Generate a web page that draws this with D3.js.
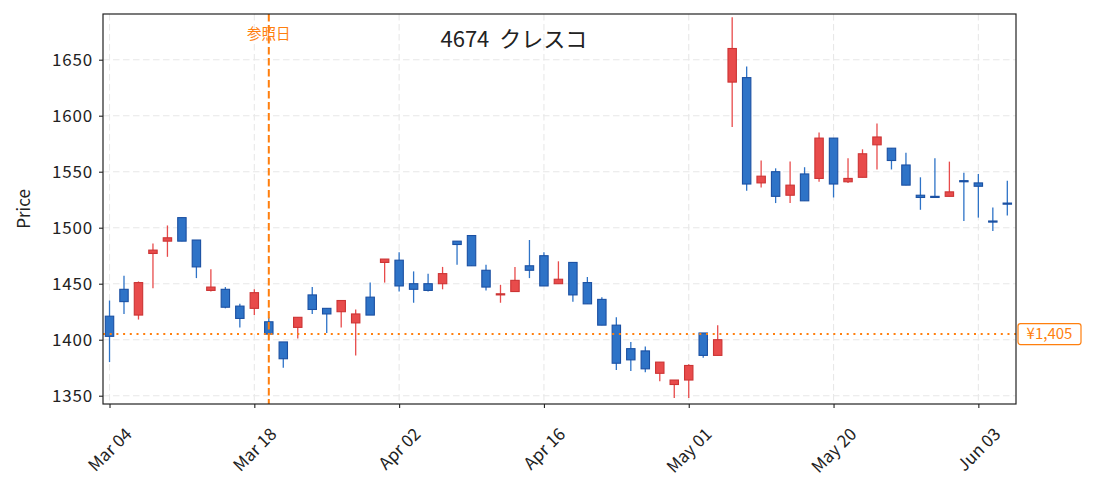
<!DOCTYPE html>
<html>
<head>
<meta charset="utf-8">
<script src="https://cdn.jsdelivr.net/npm/d3@7"></script>
<style>
  body { margin: 0; background: #fff; }
  svg { display: block; font-family: "Noto Sans CJK JP", "Noto Sans", sans-serif; }
</style>
</head>
<body>
<div id="chart"></div>
<script>
// trading days shown on the chart
const dates = [
  "2024-03-04","2024-03-05","2024-03-06","2024-03-07","2024-03-08","2024-03-11","2024-03-12","2024-03-13","2024-03-14","2024-03-15",
  "2024-03-18","2024-03-19","2024-03-21","2024-03-22","2024-03-25","2024-03-26","2024-03-27","2024-03-28","2024-03-29","2024-04-01",
  "2024-04-02","2024-04-03","2024-04-04","2024-04-05","2024-04-08","2024-04-09","2024-04-10","2024-04-11","2024-04-12","2024-04-15",
  "2024-04-16","2024-04-17","2024-04-18","2024-04-19","2024-04-22","2024-04-23","2024-04-24","2024-04-25","2024-04-26","2024-04-30",
  "2024-05-01","2024-05-02","2024-05-07","2024-05-08","2024-05-09","2024-05-10","2024-05-13","2024-05-14","2024-05-15","2024-05-16",
  "2024-05-20","2024-05-21","2024-05-22","2024-05-23","2024-05-24","2024-05-27","2024-05-28","2024-05-29","2024-05-30","2024-05-31",
  "2024-06-03","2024-06-04","2024-06-05"
];
const opens  = [1421,1445,1422,1477,1488,1509,1489,1444,1445,1430,1428,1416,1398,1411,1440,1428,1425,1415,1438,1469,
                1471,1450,1450,1450,1488,1493,1462,1440,1443,1466,1475,1450,1469,1451,1436,1413,1392,1390,1370,1360,
                1364,1406,1386,1630,1634,1540,1550,1529,1548,1544,1580,1541,1545,1574,1571,1556,1529,1528,1528,1542,
                1540,1506,1522];
const highs  = [1435,1457,1452,1486,1502,1509,1489,1463,1447,1432,1445,1420,1398,1420,1447,1428,1435,1427,1451,1472,
                1478,1461,1459,1465,1488,1493,1467,1449,1465,1489,1478,1470,1469,1456,1438,1420,1398,1394,1380,1364,
                1378,1406,1413,1688,1644,1560,1553,1559,1554,1585,1580,1562,1570,1593,1571,1567,1545,1562,1559,1549,
                1548,1518,1542];
const lows   = [1380,1423,1418,1446,1474,1488,1455,1443,1428,1411,1422,1405,1375,1401,1423,1406,1411,1386,1422,1451,
                1443,1433,1443,1445,1467,1466,1444,1433,1443,1455,1448,1450,1434,1432,1413,1373,1372,1371,1363,1348,
                1348,1384,1386,1590,1533,1536,1522,1522,1524,1541,1527,1540,1545,1552,1552,1538,1516,1527,1528,1506,
                1509,1497,1511];
const closes = [1403,1434,1451,1480,1491,1488,1465,1447,1429,1419,1442,1405,1383,1420,1427,1423,1435,1423,1422,1472,
                1448,1445,1444,1459,1485,1466,1447,1441,1453,1462,1448,1454,1440,1432,1413,1379,1382,1374,1380,1364,
                1377,1386,1400,1660,1539,1546,1528,1538,1524,1580,1539,1544,1566,1581,1560,1538,1527,1527,1532,1541,
                1537,1505,1521];

const yTicks = [1350, 1400, 1450, 1500, 1550, 1600, 1650];
const xTicks = [0, 10, 20, 30, 40, 50, 60];
const refIndex = 11;      // 参照日
const refPrice = 1405;
const titleText = "4674  クレスコ";

const W = 1093, H = 491;
const plot = { left: 103, right: 1016, top: 14, bottom: 404 };

const svg = d3.select("#chart").append("svg")
  .attr("width", W).attr("height", H);

const x = d3.scaleLinear().domain([-0.45, 62.6]).range([plot.left, plot.right]);
const y = d3.scaleLinear().domain([1342.6, 1690.8]).range([plot.bottom, plot.top]);

const fmtDate = d3.timeFormat("%b %d");
const parse = d3.timeParse("%Y-%m-%d");

// grid
const grid = svg.append("g");
grid.selectAll("line.gy").data(yTicks).enter().append("line")
  .attr("x1", plot.left).attr("x2", plot.right)
  .attr("y1", d => y(d)).attr("y2", d => y(d))
  .attr("stroke", "#e8e8e8").attr("stroke-width", 1.1).attr("stroke-dasharray", "6.5,3.5");
grid.selectAll("line.gx").data(xTicks).enter().append("line")
  .attr("y1", plot.top).attr("y2", plot.bottom)
  .attr("x1", d => x(d)).attr("x2", d => x(d))
  .attr("stroke", "#e8e8e8").attr("stroke-width", 1.1).attr("stroke-dasharray", "6.5,3.5");

// candles
const upFill = "#e84b4b", upEdge = "#cc3434";
const dnFill = "#2e73c7", dnEdge = "#1b50a2";
const idx = d3.range(dates.length);
const bodyW = 0.58 * (x(1) - x(0));

svg.append("g").selectAll("line").data(idx).enter().append("line")
  .attr("x1", i => x(i)).attr("x2", i => x(i))
  .attr("y1", i => y(highs[i])).attr("y2", i => y(lows[i]))
  .attr("stroke", i => closes[i] >= opens[i] ? upFill : dnFill)
  .attr("stroke-width", 1.3);

svg.append("g").selectAll("rect").data(idx).enter().append("rect")
  .attr("x", i => x(i) - bodyW / 2)
  .attr("width", bodyW)
  .attr("y", i => y(Math.max(opens[i], closes[i])))
  .attr("height", i => Math.max(1, Math.abs(y(opens[i]) - y(closes[i]))))
  .attr("fill", i => closes[i] >= opens[i] ? upFill : dnFill)
  .attr("stroke", i => closes[i] >= opens[i] ? upEdge : dnEdge)
  .attr("stroke-width", 1.1);

// reference lines
const orange = "#ff7f0e";
svg.append("line")
  .attr("x1", plot.left).attr("x2", plot.right)
  .attr("y1", y(refPrice)).attr("y2", y(refPrice))
  .attr("stroke", orange).attr("stroke-width", 2).attr("stroke-dasharray", "2,4.7");
svg.append("line")
  .attr("x1", x(refIndex)).attr("x2", x(refIndex))
  .attr("y1", plot.top).attr("y2", plot.bottom)
  .attr("stroke", orange).attr("stroke-width", 2).attr("stroke-dasharray", "7.5,3.5");

svg.append("text")
  .attr("x", x(refIndex)).attr("y", 39)
  .attr("text-anchor", "middle")
  .attr("fill", orange).style("font-size", "14.5px")
  .text("参照日");

// axes
const yAxis = svg.append("g")
  .attr("transform", `translate(${plot.left},0)`)
  .call(d3.axisLeft(y).tickValues(yTicks).tickSize(4).tickPadding(6).tickFormat(d3.format("d")));
const xAxis = svg.append("g")
  .attr("transform", `translate(0,${plot.bottom})`)
  .call(d3.axisBottom(x).tickValues(xTicks).tickSize(4).tickFormat(i => fmtDate(parse(dates[i]))));

[yAxis, xAxis].forEach(a => {
  a.select(".domain").remove();
  a.selectAll(".tick line").attr("stroke", "#222").attr("stroke-width", 1.1);
  a.selectAll(".tick text").attr("fill", "#222").style("font-size", "17px")
    .style("font-family", "'Noto Sans CJK JP', sans-serif");
});
yAxis.selectAll(".tick text").style("letter-spacing", "0.8px");

xAxis.selectAll(".tick text").each(function() {
  const t = d3.select(this);
  const w = this.getComputedTextLength();
  const c = 21 + (w + 17) * 0.3536;
  t.attr("y", 0).attr("dy", "0.35em").attr("x", 0)
    .attr("text-anchor", "middle")
    .attr("transform", `translate(0,${c}) rotate(-45)`);
});

// frame
svg.append("rect")
  .attr("x", plot.left).attr("y", plot.top)
  .attr("width", plot.right - plot.left).attr("height", plot.bottom - plot.top)
  .attr("fill", "none").attr("stroke", "#222").attr("stroke-width", 1.2);

// y label
svg.append("text")
  .attr("transform", `translate(30,${(plot.top + plot.bottom) / 2}) rotate(-90)`)
  .attr("text-anchor", "middle")
  .attr("fill", "#222").style("font-size", "17px")
  .text("Price");

// title
svg.append("text")
  .attr("x", plot.left + 0.45 * (plot.right - plot.left)).attr("y", 47)
  .attr("text-anchor", "middle")
  .attr("fill", "#222").style("font-size", "22px")
  .style("white-space", "pre")
  .text(titleText);

// price tag on the right
const tag = svg.append("g").attr("transform", `translate(${plot.right + 2},${y(refPrice)})`);
tag.append("rect")
  .attr("x", 0).attr("y", -10.5).attr("width", 63).attr("height", 21).attr("rx", 2.5)
  .attr("fill", "#fff").attr("stroke", orange).attr("stroke-width", 1.2);
tag.append("text")
  .attr("x", 31.5).attr("y", 0).attr("dy", "0.35em")
  .attr("text-anchor", "middle")
  .attr("fill", orange).style("font-size", "15px")
  .text("¥" + d3.format(",")(refPrice));
</script>
</body>
</html>
